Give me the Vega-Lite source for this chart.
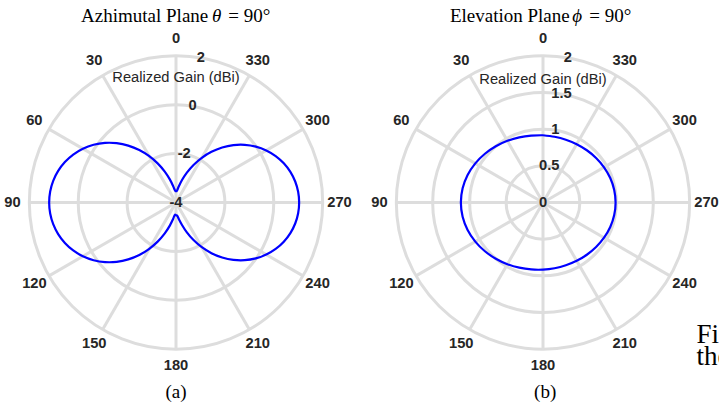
{
  "$schema": "https://vega.github.io/schema/vega-lite/v6.json",
  "padding": 0,
  "bounds": "flush",
  "spacing": 15,
  "background": "white",
  "config": {"view": {"stroke": null}},
  "datasets": {
    "one": [{"k": 1}],
    "spokes": [
      {"angle": 0}, {"angle": 30}, {"angle": 60}, {"angle": 90}, {"angle": 120}, {"angle": 150},
      {"angle": 180}, {"angle": 210}, {"angle": 240}, {"angle": 270}, {"angle": 300}, {"angle": 330}
    ],
    "ringsA": [{"gain": -2}, {"gain": 0}, {"gain": 2}],
    "ringsB": [{"gain": 0.5}, {"gain": 1}, {"gain": 1.5}, {"gain": 2}],
    "ticksA": [
      {"gain": -4, "label": "-4"}, {"gain": -2, "label": "-2"}, {"gain": 0, "label": "0"}, {"gain": 2, "label": "2"}
    ],
    "ticksB": [
      {"gain": 0, "label": "0"}, {"gain": 0.5, "label": "0.5"}, {"gain": 1, "label": "1"}, {"gain": 1.5, "label": "1.5"}, {"gain": 2, "label": "2"}
    ],
    "azimuth": [
      {"angle": 0, "gain": -3.565}, {"angle": 5, "gain": -3.5}, {"angle": 10, "gain": -3.313}, {"angle": 15, "gain": -3.022},
      {"angle": 20, "gain": -2.657}, {"angle": 25, "gain": -2.246}, {"angle": 30, "gain": -1.813}, {"angle": 35, "gain": -1.38},
      {"angle": 40, "gain": -0.961}, {"angle": 45, "gain": -0.568}, {"angle": 50, "gain": -0.207}, {"angle": 55, "gain": 0.116},
      {"angle": 60, "gain": 0.399}, {"angle": 65, "gain": 0.64}, {"angle": 70, "gain": 0.837}, {"angle": 75, "gain": 0.991},
      {"angle": 80, "gain": 1.101}, {"angle": 85, "gain": 1.167}, {"angle": 90, "gain": 1.189}, {"angle": 95, "gain": 1.167},
      {"angle": 100, "gain": 1.101}, {"angle": 105, "gain": 0.991}, {"angle": 110, "gain": 0.837}, {"angle": 115, "gain": 0.64},
      {"angle": 120, "gain": 0.399}, {"angle": 125, "gain": 0.116}, {"angle": 130, "gain": -0.207}, {"angle": 135, "gain": -0.568},
      {"angle": 140, "gain": -0.961}, {"angle": 145, "gain": -1.38}, {"angle": 150, "gain": -1.813}, {"angle": 155, "gain": -2.246},
      {"angle": 160, "gain": -2.657}, {"angle": 165, "gain": -3.022}, {"angle": 170, "gain": -3.313}, {"angle": 175, "gain": -3.5},
      {"angle": 180, "gain": -3.48}, {"angle": 185, "gain": -3.46}, {"angle": 190, "gain": -3.3}, {"angle": 195, "gain": -3.049},
      {"angle": 200, "gain": -2.7}, {"angle": 205, "gain": -2.304}, {"angle": 210, "gain": -1.888}, {"angle": 215, "gain": -1.469},
      {"angle": 220, "gain": -1.063}, {"angle": 225, "gain": -0.68}, {"angle": 230, "gain": -0.329}, {"angle": 235, "gain": -0.013},
      {"angle": 240, "gain": 0.263}, {"angle": 245, "gain": 0.499}, {"angle": 250, "gain": 0.693}, {"angle": 255, "gain": 0.844},
      {"angle": 260, "gain": 0.952}, {"angle": 265, "gain": 1.016}, {"angle": 270, "gain": 1.038}, {"angle": 275, "gain": 1.016},
      {"angle": 280, "gain": 0.952}, {"angle": 285, "gain": 0.844}, {"angle": 290, "gain": 0.693}, {"angle": 295, "gain": 0.499},
      {"angle": 300, "gain": 0.263}, {"angle": 305, "gain": -0.013}, {"angle": 310, "gain": -0.329}, {"angle": 315, "gain": -0.68},
      {"angle": 320, "gain": -1.063}, {"angle": 325, "gain": -1.469}, {"angle": 330, "gain": -1.888}, {"angle": 335, "gain": -2.304},
      {"angle": 340, "gain": -2.7}, {"angle": 345, "gain": -3.049}, {"angle": 350, "gain": -3.325}, {"angle": 355, "gain": -3.504},
      {"angle": 360, "gain": -3.565}
    ],
    "elevation": [
      {"angle": 0, "gain": 0.917}, {"angle": 10, "gain": 0.927}, {"angle": 20, "gain": 0.946}, {"angle": 30, "gain": 0.971},
      {"angle": 40, "gain": 1.001}, {"angle": 50, "gain": 1.034}, {"angle": 60, "gain": 1.066}, {"angle": 70, "gain": 1.094},
      {"angle": 80, "gain": 1.113}, {"angle": 90, "gain": 1.12}, {"angle": 100, "gain": 1.113}, {"angle": 110, "gain": 1.094},
      {"angle": 120, "gain": 1.066}, {"angle": 130, "gain": 1.034}, {"angle": 140, "gain": 1.001}, {"angle": 150, "gain": 0.971},
      {"angle": 160, "gain": 0.946}, {"angle": 170, "gain": 0.927}, {"angle": 180, "gain": 0.915}, {"angle": 190, "gain": 0.91},
      {"angle": 200, "gain": 0.911}, {"angle": 210, "gain": 0.918}, {"angle": 220, "gain": 0.93}, {"angle": 230, "gain": 0.945},
      {"angle": 240, "gain": 0.961}, {"angle": 250, "gain": 0.976}, {"angle": 260, "gain": 0.986}, {"angle": 270, "gain": 0.99},
      {"angle": 280, "gain": 0.986}, {"angle": 290, "gain": 0.976}, {"angle": 300, "gain": 0.961}, {"angle": 310, "gain": 0.945},
      {"angle": 320, "gain": 0.93}, {"angle": 330, "gain": 0.918}, {"angle": 340, "gain": 0.911}, {"angle": 350, "gain": 0.91},
      {"angle": 360, "gain": 0.917}
    ]
  },
  "hconcat": [
    {
      "width": 352,
      "height": 412,
      "layer": [
        {
          "data": {"name": "ringsA"},
          "transform": [{"calculate": "(datum.gain + 4) / 6", "as": "rn"}],
          "mark": {"type": "arc", "theta": 0, "theta2": 6.2832, "filled": false, "color": "#dddddd", "strokeWidth": 3},
          "encoding": {
            "x": {"datum": 0, "type": "quantitative", "scale": {"domain": [-1.2, 1.2], "nice": false, "zero": false}, "axis": null},
            "y": {"datum": 0, "type": "quantitative", "scale": {"domain": [-1.4284, 1.3807], "nice": false, "zero": false}, "axis": null},
            "radius": {"field": "rn", "type": "quantitative", "stack": null, "scale": {"type": "linear", "domain": [0, 1], "range": [0, 146.67], "zero": true}, "legend": null}
          }
        },
        {
          "data": {"name": "spokes"},
          "transform": [
            {"calculate": "-sin(datum.angle * PI / 180)", "as": "ex"},
            {"calculate": "cos(datum.angle * PI / 180)", "as": "ey"}
          ],
          "mark": {"type": "rule", "color": "#dddddd", "strokeWidth": 3},
          "encoding": {
            "x": {"field": "ex", "type": "quantitative", "scale": {"domain": [-1.2, 1.2], "nice": false, "zero": false}, "axis": null},
            "y": {"field": "ey", "type": "quantitative", "scale": {"domain": [-1.4284, 1.3807], "nice": false, "zero": false}, "axis": null},
            "x2": {"datum": 0},
            "y2": {"datum": 0}
          }
        },
        {
          "data": {"name": "azimuth"},
          "transform": [
            {"calculate": "(datum.gain + 4) / 6", "as": "rn"},
            {"calculate": "-datum.rn * sin(datum.angle * PI / 180)", "as": "px"},
            {"calculate": "datum.rn * cos(datum.angle * PI / 180)", "as": "py"}
          ],
          "mark": {"type": "line", "color": "#0000ff", "strokeWidth": 2.2, "interpolate": "catmull-rom"},
          "encoding": {
            "x": {"field": "px", "type": "quantitative", "scale": {"domain": [-1.2, 1.2], "nice": false, "zero": false}, "axis": null},
            "y": {"field": "py", "type": "quantitative", "scale": {"domain": [-1.4284, 1.3807], "nice": false, "zero": false}, "axis": null},
            "order": {"field": "angle", "type": "quantitative"}
          }
        },
        {
          "data": {"name": "spokes"},
          "transform": [
            {"calculate": "-1.115 * sin(datum.angle * PI / 180)", "as": "lx"},
            {"calculate": "1.115 * cos(datum.angle * PI / 180)", "as": "ly"}
          ],
          "mark": {"type": "text", "font": "Liberation Sans", "fontWeight": "bold", "fontSize": 14.7, "color": "#262626", "align": "center", "baseline": "middle"},
          "encoding": {
            "x": {"field": "lx", "type": "quantitative", "scale": {"domain": [-1.2, 1.2], "nice": false, "zero": false}, "axis": null},
            "y": {"field": "ly", "type": "quantitative", "scale": {"domain": [-1.4284, 1.3807], "nice": false, "zero": false}, "axis": null},
            "text": {"field": "angle", "type": "nominal"}
          }
        },
        {
          "data": {"name": "ticksA"},
          "transform": [
            {"calculate": "(datum.gain + 4) / 6", "as": "rn"},
            {"calculate": "0.1685 * datum.rn", "as": "tx"},
            {"calculate": "0.9857 * datum.rn", "as": "ty"}
          ],
          "mark": {"type": "text", "font": "Liberation Sans", "fontWeight": "bold", "fontSize": 14.7, "color": "#262626", "align": "center", "baseline": "middle"},
          "encoding": {
            "x": {"field": "tx", "type": "quantitative", "scale": {"domain": [-1.2, 1.2], "nice": false, "zero": false}, "axis": null},
            "y": {"field": "ty", "type": "quantitative", "scale": {"domain": [-1.4284, 1.3807], "nice": false, "zero": false}, "axis": null},
            "text": {"field": "label", "type": "nominal"}
          }
        },
        {
          "data": {"name": "one"},
          "mark": {"type": "text", "text": "Realized Gain (dBi)", "font": "Liberation Sans", "fontSize": 14.7, "color": "#262626", "align": "center", "baseline": "middle"},
          "encoding": {
            "x": {"datum": 0, "type": "quantitative", "scale": {"domain": [-1.2, 1.2], "nice": false, "zero": false}, "axis": null},
            "y": {"datum": 0.846, "type": "quantitative", "scale": {"domain": [-1.4284, 1.3807], "nice": false, "zero": false}, "axis": null}
          }
        },
        {
          "data": {"name": "one"},
          "mark": {"type": "text", "text": "Azhimutal Plane", "font": "Liberation Serif", "fontSize": 19, "color": "#000000", "align": "right", "baseline": "alphabetic"},
          "encoding": {
            "x": {"datum": 0.22, "type": "quantitative", "scale": {"domain": [-1.2, 1.2], "nice": false, "zero": false}, "axis": null},
            "y": {"datum": 1.2327, "type": "quantitative", "scale": {"domain": [-1.4284, 1.3807], "nice": false, "zero": false}, "axis": null}
          }
        },
        {
          "data": {"name": "one"},
          "mark": {"type": "text", "text": "θ", "font": "Liberation Serif", "fontStyle": "italic", "fontSize": 19, "color": "#000000", "align": "center", "baseline": "alphabetic"},
          "encoding": {
            "x": {"datum": 0.278, "type": "quantitative", "scale": {"domain": [-1.2, 1.2], "nice": false, "zero": false}, "axis": null},
            "y": {"datum": 1.2327, "type": "quantitative", "scale": {"domain": [-1.4284, 1.3807], "nice": false, "zero": false}, "axis": null}
          }
        },
        {
          "data": {"name": "one"},
          "mark": {"type": "text", "text": "= 90°", "font": "Liberation Serif", "fontSize": 19, "color": "#000000", "align": "left", "baseline": "alphabetic"},
          "encoding": {
            "x": {"datum": 0.357, "type": "quantitative", "scale": {"domain": [-1.2, 1.2], "nice": false, "zero": false}, "axis": null},
            "y": {"datum": 1.2327, "type": "quantitative", "scale": {"domain": [-1.4284, 1.3807], "nice": false, "zero": false}, "axis": null}
          }
        },
        {
          "data": {"name": "one"},
          "mark": {"type": "text", "text": "(a)", "font": "Liberation Serif", "fontSize": 19, "color": "#000000", "align": "center", "baseline": "alphabetic"},
          "encoding": {
            "x": {"datum": 0, "type": "quantitative", "scale": {"domain": [-1.2, 1.2], "nice": false, "zero": false}, "axis": null},
            "y": {"datum": -1.333, "type": "quantitative", "scale": {"domain": [-1.4284, 1.3807], "nice": false, "zero": false}, "axis": null}
          }
        }
      ]
    },
    {
      "width": 352,
      "height": 412,
      "layer": [
        {
          "data": {"name": "ringsB"},
          "transform": [{"calculate": "datum.gain / 2", "as": "rn"}],
          "mark": {"type": "arc", "theta": 0, "theta2": 6.2832, "filled": false, "color": "#dddddd", "strokeWidth": 3},
          "encoding": {
            "x": {"datum": 0, "type": "quantitative", "scale": {"domain": [-1.2, 1.2], "nice": false, "zero": false}, "axis": null},
            "y": {"datum": 0, "type": "quantitative", "scale": {"domain": [-1.4284, 1.3807], "nice": false, "zero": false}, "axis": null},
            "radius": {"field": "rn", "type": "quantitative", "stack": null, "scale": {"type": "linear", "domain": [0, 1], "range": [0, 146.67], "zero": true}, "legend": null}
          }
        },
        {
          "data": {"name": "spokes"},
          "transform": [
            {"calculate": "-sin(datum.angle * PI / 180)", "as": "ex"},
            {"calculate": "cos(datum.angle * PI / 180)", "as": "ey"}
          ],
          "mark": {"type": "rule", "color": "#dddddd", "strokeWidth": 3},
          "encoding": {
            "x": {"field": "ex", "type": "quantitative", "scale": {"domain": [-1.2, 1.2], "nice": false, "zero": false}, "axis": null},
            "y": {"field": "ey", "type": "quantitative", "scale": {"domain": [-1.4284, 1.3807], "nice": false, "zero": false}, "axis": null},
            "x2": {"datum": 0},
            "y2": {"datum": 0}
          }
        },
        {
          "data": {"name": "elevation"},
          "transform": [
            {"calculate": "datum.gain / 2", "as": "rn"},
            {"calculate": "-datum.rn * sin(datum.angle * PI / 180)", "as": "px"},
            {"calculate": "datum.rn * cos(datum.angle * PI / 180)", "as": "py"}
          ],
          "mark": {"type": "line", "color": "#0000ff", "strokeWidth": 2.2, "interpolate": "catmull-rom"},
          "encoding": {
            "x": {"field": "px", "type": "quantitative", "scale": {"domain": [-1.2, 1.2], "nice": false, "zero": false}, "axis": null},
            "y": {"field": "py", "type": "quantitative", "scale": {"domain": [-1.4284, 1.3807], "nice": false, "zero": false}, "axis": null},
            "order": {"field": "angle", "type": "quantitative"}
          }
        },
        {
          "data": {"name": "spokes"},
          "transform": [
            {"calculate": "-1.115 * sin(datum.angle * PI / 180)", "as": "lx"},
            {"calculate": "1.115 * cos(datum.angle * PI / 180)", "as": "ly"}
          ],
          "mark": {"type": "text", "clip": true, "font": "Liberation Sans", "fontWeight": "bold", "fontSize": 14.7, "color": "#262626", "align": "center", "baseline": "middle"},
          "encoding": {
            "x": {"field": "lx", "type": "quantitative", "scale": {"domain": [-1.2, 1.2], "nice": false, "zero": false}, "axis": null},
            "y": {"field": "ly", "type": "quantitative", "scale": {"domain": [-1.4284, 1.3807], "nice": false, "zero": false}, "axis": null},
            "text": {"field": "angle", "type": "nominal"}
          }
        },
        {
          "data": {"name": "ticksB"},
          "transform": [
            {"calculate": "datum.gain / 2", "as": "rn"},
            {"calculate": "0.1685 * datum.rn", "as": "tx"},
            {"calculate": "0.9857 * datum.rn", "as": "ty"}
          ],
          "mark": {"type": "text", "font": "Liberation Sans", "fontWeight": "bold", "fontSize": 14.7, "color": "#262626", "align": "center", "baseline": "middle"},
          "encoding": {
            "x": {"field": "tx", "type": "quantitative", "scale": {"domain": [-1.2, 1.2], "nice": false, "zero": false}, "axis": null},
            "y": {"field": "ty", "type": "quantitative", "scale": {"domain": [-1.4284, 1.3807], "nice": false, "zero": false}, "axis": null},
            "text": {"field": "label", "type": "nominal"}
          }
        },
        {
          "data": {"name": "one"},
          "mark": {"type": "text", "text": "Realized Gain (dBi)", "font": "Liberation Sans", "fontSize": 14.7, "color": "#262626", "align": "center", "baseline": "middle"},
          "encoding": {
            "x": {"datum": 0, "type": "quantitative", "scale": {"domain": [-1.2, 1.2], "nice": false, "zero": false}, "axis": null},
            "y": {"datum": 0.835, "type": "quantitative", "scale": {"domain": [-1.4284, 1.3807], "nice": false, "zero": false}, "axis": null}
          }
        },
        {
          "data": {"name": "one"},
          "mark": {"type": "text", "text": "Elevation Plane", "font": "Liberation Serif", "fontSize": 19, "color": "#000000", "align": "right", "baseline": "alphabetic"},
          "encoding": {
            "x": {"datum": 0.182, "type": "quantitative", "scale": {"domain": [-1.2, 1.2], "nice": false, "zero": false}, "axis": null},
            "y": {"datum": 1.2327, "type": "quantitative", "scale": {"domain": [-1.4284, 1.3807], "nice": false, "zero": false}, "axis": null}
          }
        },
        {
          "data": {"name": "one"},
          "mark": {"type": "text", "text": "ϕ", "font": "Liberation Serif", "fontStyle": "italic", "fontSize": 19, "color": "#000000", "align": "center", "baseline": "alphabetic"},
          "encoding": {
            "x": {"datum": 0.233, "type": "quantitative", "scale": {"domain": [-1.2, 1.2], "nice": false, "zero": false}, "axis": null},
            "y": {"datum": 1.2327, "type": "quantitative", "scale": {"domain": [-1.4284, 1.3807], "nice": false, "zero": false}, "axis": null}
          }
        },
        {
          "data": {"name": "one"},
          "mark": {"type": "text", "text": "= 90°", "font": "Liberation Serif", "fontSize": 19, "color": "#000000", "align": "left", "baseline": "alphabetic"},
          "encoding": {
            "x": {"datum": 0.315, "type": "quantitative", "scale": {"domain": [-1.2, 1.2], "nice": false, "zero": false}, "axis": null},
            "y": {"datum": 1.2327, "type": "quantitative", "scale": {"domain": [-1.4284, 1.3807], "nice": false, "zero": false}, "axis": null}
          }
        },
        {
          "data": {"name": "one"},
          "mark": {"type": "text", "text": "(b)", "font": "Liberation Serif", "fontSize": 19, "color": "#000000", "align": "center", "baseline": "alphabetic"},
          "encoding": {
            "x": {"datum": 0.015, "type": "quantitative", "scale": {"domain": [-1.2, 1.2], "nice": false, "zero": false}, "axis": null},
            "y": {"datum": -1.333, "type": "quantitative", "scale": {"domain": [-1.4284, 1.3807], "nice": false, "zero": false}, "axis": null}
          }
        },
        {
          "data": {"name": "one"},
          "mark": {"type": "text", "clip": true, "text": "Fig.", "font": "Liberation Serif", "fontSize": 27, "color": "#000000", "align": "left", "baseline": "alphabetic"},
          "encoding": {
            "x": {"datum": 1.046, "type": "quantitative", "scale": {"domain": [-1.2, 1.2], "nice": false, "zero": false}, "axis": null},
            "y": {"datum": -0.958, "type": "quantitative", "scale": {"domain": [-1.4284, 1.3807], "nice": false, "zero": false}, "axis": null}
          }
        },
        {
          "data": {"name": "one"},
          "mark": {"type": "text", "clip": true, "text": "the", "font": "Liberation Serif", "fontSize": 27, "color": "#000000", "align": "left", "baseline": "alphabetic"},
          "encoding": {
            "x": {"datum": 1.046, "type": "quantitative", "scale": {"domain": [-1.2, 1.2], "nice": false, "zero": false}, "axis": null},
            "y": {"datum": -1.108, "type": "quantitative", "scale": {"domain": [-1.4284, 1.3807], "nice": false, "zero": false}, "axis": null}
          }
        }
      ]
    }
  ]
}
